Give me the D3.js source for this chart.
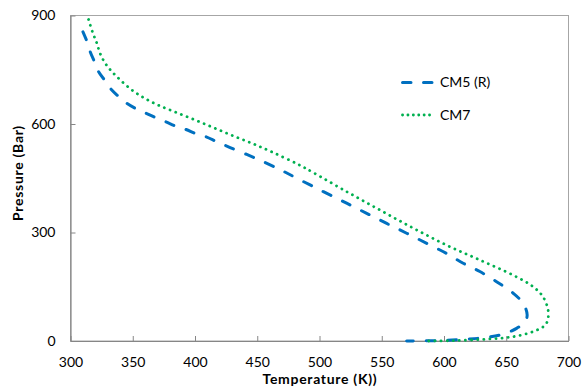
<!DOCTYPE html>
<html>
<head>
<meta charset="utf-8">
<script src="https://cdn.jsdelivr.net/npm/d3@7"></script>
<style>
  html, body { margin: 0; padding: 0; background: #fff; }
  svg { display: block; font-family: Lato, "Open Sans", sans-serif; }
</style>
</head>
<body>
<svg id="chart" width="582" height="387"></svg>
<script>
// ---- data ----
const xTicks = [300, 350, 400, 450, 500, 550, 600, 650, 700];
const yTicks = [0, 300, 600, 900];
const seriesNames = ["CM5 (R)", "CM7"];

const cm5Temp = [310.0, 313.6, 315.8, 319.8, 322.5, 327.9, 331.9, 339.3, 345.3, 353.3, 360.5, 369.3, 376.6, 385.4, 392.6, 401.4, 408.7, 417.5, 428.2, 448.2, 468.3, 479.0, 503.1, 521.8, 537.9, 554.0, 570.0, 586.1, 602.1, 615.4, 628.8, 642.2, 655.6, 663.6, 666.8, 665.0, 658.3, 647.5, 634.2, 618.2, 594.1, 570.0];
const cm5Pres = [855, 825, 800, 768, 745, 719, 699, 674, 657, 641, 630, 616, 606, 593, 585, 572, 565, 551, 535, 506, 474, 455, 413, 381, 353, 325, 298, 270, 242, 215, 192, 164, 132, 104, 72, 53, 35, 19, 10, 5, 1, 0];

const cm7Temp = [314.5, 318.0, 321.2, 323.8, 327.9, 333.2, 339.9, 349.3, 358.6, 369.3, 382.7, 398.7, 414.8, 430.8, 446.9, 462.9, 483.0, 495.3, 521.8, 548.6, 575.3, 602.1, 628.8, 655.6, 671.6, 679.6, 683.6, 683.6, 681.3, 671.6, 655.6, 634.2, 607.7, 584.7];
const cm7Pres = [889, 851, 823, 795, 768, 745, 722, 694, 673, 654, 635, 613, 590, 567, 545, 521, 488, 465, 413, 362, 312, 265, 224, 182, 150, 122, 86, 63, 44, 26, 12, 5, 1, 0];

// ---- layout ----
const svg = d3.select("#chart");
const L = 70.5, R = 568.5, T = 15.5, B = 341;
const x = d3.scaleLinear().domain([300, 700]).range([L, R]);
const y = d3.scaleLinear().domain([0, 900]).range([B, T]);

// plot border (top/right)
svg.append("rect")
  .attr("x", L).attr("y", T).attr("width", R - L).attr("height", B - T)
  .attr("fill", "none").attr("stroke", "#a6a6a6").attr("stroke-width", 1);

// axes
const xAxis = svg.append("g").attr("transform", `translate(0,${B})`)
  .call(d3.axisBottom(x).tickValues(xTicks).tickSizeInner(-5).tickSizeOuter(0).tickPadding(16).tickFormat(d3.format("d")));
const yAxis = svg.append("g").attr("transform", `translate(${L},0)`)
  .call(d3.axisLeft(y).tickValues(yTicks).tickSizeInner(-5).tickSizeOuter(0).tickPadding(15).tickFormat(d3.format("d")));
[xAxis, yAxis].forEach(g => {
  g.select(".domain").attr("stroke", "#868686").attr("stroke-width", 1.2);
  g.selectAll(".tick line").attr("stroke", "#868686");
  g.selectAll(".tick text").attr("fill", "#000").style("font-size", "14px").style("font-family", "Lato, sans-serif");
});

// axis titles
svg.append("text").attr("x", (L + R) / 2 + 0.4).attr("y", 384)
  .attr("text-anchor", "middle").style("font-size", "14px").style("font-weight", "bold")
  .style("letter-spacing", "0.7px")
  .text("Temperature (K))");
svg.append("text").attr("transform", "translate(23,173) rotate(-90)")
  .attr("text-anchor", "middle").style("font-size", "14px").style("font-weight", "bold")
  .style("letter-spacing", "0.7px")
  .text("Pressure (Bar)");

// lines
const line = d3.line().x(d => x(d[0])).y(d => y(d[1])).curve(d3.curveCatmullRom.alpha(0.5));
const cm5 = cm5Temp.map((t, i) => [t, cm5Pres[i]]);
const cm7 = cm7Temp.map((t, i) => [t, cm7Pres[i]]);

const styles = [
  { color: "#0070C0", width: 3, dash: "8.5 13", legDash: "8.5 12.5" },
  { color: "#00B050", width: 2.8, dash: "0.1 6", legDash: "0.1 5.3" }
];

svg.append("path").datum(cm5).attr("d", line).attr("fill", "none")
  .attr("stroke", styles[0].color).attr("stroke-width", styles[0].width)
  .attr("stroke-dasharray", styles[0].dash).attr("stroke-linecap", "round");
svg.append("path").datum(cm7).attr("d", line).attr("fill", "none")
  .attr("stroke", styles[1].color).attr("stroke-width", styles[1].width)
  .attr("stroke-dasharray", styles[1].dash).attr("stroke-linecap", "round");

// legend
const legY = [82.5, 115];
seriesNames.forEach((name, i) => {
  const g = svg.append("g");
  g.append("line").attr("x1", 402.5).attr("x2", 433).attr("y1", legY[i]).attr("y2", legY[i])
    .attr("stroke", styles[i].color).attr("stroke-width", styles[i].width)
    .attr("stroke-dasharray", styles[i].legDash).attr("stroke-linecap", "round");
  g.append("text").attr("x", 440).attr("y", legY[i]).attr("dy", "0.35em")
    .style("font-size", "14px").text(name);
});
</script>
</body>
</html>
